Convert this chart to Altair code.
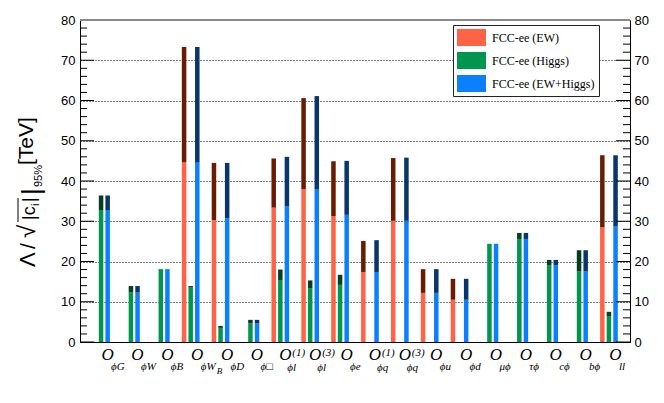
import altair as alt
import pandas as pd

# ---------------- data ----------------
op_ids = ["phiG", "phiW", "phiB", "phiWB", "phiD", "phiBox", "phil1", "phil3", "phie",
          "phiq1", "phiq3", "phiu", "phid", "muphi", "tauphi", "cphi", "bphi", "ll"]
op_sub = ["ϕG", "ϕW", "ϕB", "ϕW", "ϕD", "ϕ□", "ϕl", "ϕl", "ϕe",
          "ϕq", "ϕq", "ϕu", "ϕd", "μϕ", "τϕ", "cϕ", "bϕ", "ll"]
op_subsub = ["", "", "", "B", "", "", "", "", "", "", "", "", "", "", "", "", "", ""]
op_sup = ["", "", "", "", "", "", "(1)", "(3)", "", "(1)", "(3)", "", "", "", "", "", "", ""]

series = ["FCC-ee (EW)", "FCC-ee (Higgs)", "FCC-ee (EW+Higgs)"]
light_colors = ["#ff6347", "#00964f", "#0a80ff"]
dark_colors = ["#6a1c02", "#073d20", "#08366a"]

ew_total = [0, 0, 0, 73.3, 44.5, 0, 45.6, 60.6, 44.9, 25.1, 45.7, 18.1, 15.7, 0, 0, 0, 0, 46.4]
ew_lower = [0, 0, 0, 44.7, 30.3, 0, 33.4, 38.0, 31.3, 17.4, 30.1, 12.2, 10.5, 0, 0, 0, 0, 28.5]
higgs_total = [36.4, 13.9, 18.1, 13.9, 4.0, 5.5, 18.0, 15.3, 16.7, 0, 0, 0, 0, 24.4, 27.1, 20.4, 22.8, 7.5]
higgs_lower = [32.8, 12.3, 18.1, 13.5, 3.5, 4.6, 15.4, 13.4, 14.2, 0, 0, 0, 0, 24.4, 25.6, 19.0, 17.5, 6.3]
comb_total = [36.4, 13.9, 18.1, 73.3, 44.5, 5.5, 46.0, 61.1, 45.0, 25.3, 45.8, 18.1, 15.7, 24.4, 27.1, 20.4, 22.8, 46.4]
comb_lower = [32.8, 12.3, 18.1, 44.7, 30.8, 4.6, 33.7, 38.0, 31.6, 17.4, 30.1, 12.2, 10.5, 24.4, 25.6, 19.0, 17.5, 28.7]

major_ticks = [0, 10, 20, 30, 40, 50, 60, 70, 80]
minor_ticks = [v for v in range(0, 81, 2) if v % 10 != 0]

rows = []
for s, lows, tots in zip(series, [ew_lower, higgs_lower, comb_lower], [ew_total, higgs_total, comb_total]):
    for op, lo, tot in zip(op_ids, lows, tots):
        if tot > 0:
            rows.append({"op": op, "series": s, "lower": lo, "total": tot})
df = pd.DataFrame(rows)
labels_df = pd.DataFrame({"op": op_ids, "sub": op_sub, "sub2": op_subsub, "sup": op_sup})

# ---------------- scales / encodings ----------------
xscale = alt.Scale(domain=op_ids, paddingInner=0, paddingOuter=0.205)
xaxis = alt.Axis(labels=False, ticks=False, title=None, grid=False, domainColor="black", domainWidth=1)
X = alt.X("op:N", sort=op_ids, scale=xscale, axis=xaxis)
XO = alt.XOffset("series:N", sort=series,
                 scale=alt.Scale(domain=series, paddingInner=0.318, paddingOuter=0.92))
yscale = alt.Scale(domain=[0, 80], nice=False, zero=True)

left_axis = alt.Axis(orient="left", values=major_ticks, grid=True, gridDash=[1, 2], gridColor="black",
                     gridOpacity=1, gridWidth=1, ticks=False, tickSize=0, labelPadding=5,
                     domainColor="black", domainWidth=1, title=None, labelFont="Liberation Sans",
                     labelFontSize=13, labelColor="black")
right_axis = alt.Axis(orient="right", values=major_ticks, grid=False, ticks=False, tickSize=0,
                      labelPadding=4, domainColor="black", domainWidth=1, title=None,
                      labelFont="Liberation Sans", labelFontSize=13, labelColor="black")

legend = alt.Legend(title=None, orient="none", legendX=373, legendY=5,
                    symbolType="M-1,-1H2.412V1H-1Z", symbolSize=289, symbolStrokeWidth=0,
                    labelFont="Liberation Serif", labelFontSize=12, labelColor="black",
                    labelOffset=18, rowPadding=6, padding=4, strokeColor="#222222",
                    fillColor="white", labelLimit=300)

base = alt.Chart(df)
lower_bars = base.mark_bar().encode(
    x=X, xOffset=XO,
    y=alt.Y("lower:Q", scale=yscale, axis=left_axis),
    color=alt.Color("series:N", sort=series, scale=alt.Scale(domain=series, range=light_colors), legend=legend),
)
upper_bars = base.mark_bar().encode(
    x=X, xOffset=XO,
    y=alt.Y("lower:Q", scale=yscale, axis=None),
    y2="total:Q",
    fill=alt.Fill("series:N", sort=series, scale=alt.Scale(domain=series, range=dark_colors), legend=None),
)

major_df = pd.DataFrame({"v": major_ticks})
minor_df = pd.DataFrame({"v": minor_ticks})

tick_left_major = alt.Chart(major_df).mark_rule(color="black", strokeWidth=1).encode(
    y=alt.Y("v:Q", scale=yscale, axis=right_axis), x=alt.value(0), x2=alt.value(14))
tick_left_minor = alt.Chart(minor_df).mark_rule(color="black", strokeWidth=1).encode(
    y=alt.Y("v:Q", scale=yscale, axis=None), x=alt.value(0), x2=alt.value(7))
tick_right_major = alt.Chart(major_df).mark_rule(color="black", strokeWidth=1).encode(
    y=alt.Y("v:Q", scale=yscale, axis=None), x=alt.value(536), x2=alt.value(550))
tick_right_minor = alt.Chart(minor_df).mark_rule(color="black", strokeWidth=1).encode(
    y=alt.Y("v:Q", scale=yscale, axis=None), x=alt.value(543), x2=alt.value(550))
top_line = alt.Chart(pd.DataFrame({"v": [80]})).mark_rule(color="#8a8a8a", strokeWidth=2).encode(
    y=alt.Y("v:Q", scale=yscale, axis=None))

# ---------------- x labels ----------------
lab = alt.Chart(labels_df)
txt_style = dict(font="Liberation Serif", fontStyle="italic", baseline="alphabetic", color="black")
lab_O = lab.transform_filter("datum.sup == ''").mark_text(
    text="O", fontSize=17, align="center", dx=6.5, **txt_style).encode(x=X, y=alt.value(340))
lab_O_s = lab.transform_filter("datum.sup != ''").mark_text(
    text="O", fontSize=17, align="center", dx=5, **txt_style).encode(x=X, y=alt.value(340))
lab_sub = lab.transform_filter("datum.sup == ''").mark_text(
    fontSize=11, align="left", dx=10, **txt_style).encode(x=X, y=alt.value(350), text="sub:N")
lab_sub_s = lab.transform_filter("datum.sup != ''").mark_text(
    fontSize=11, align="left", dx=7, **txt_style).encode(x=X, y=alt.value(351), text="sub:N")
lab_sub2 = lab.transform_filter("datum.sub2 != ''").mark_text(
    fontSize=9, align="left", dx=26, **txt_style).encode(x=X, y=alt.value(354), text="sub2:N")
lab_sup = lab.transform_filter("datum.sup != ''").mark_text(
    fontSize=11, align="left", dx=12, **txt_style).encode(x=X, y=alt.value(336), text="sup:N")

# ---------------- y title (rotated pieces) ----------------
def rot(txt, x, y, size):
    return alt.Chart(alt.Data(values=[{"k": 1}])).mark_text(
        text=txt, angle=270, align="left", baseline="alphabetic", fontSize=size,
        font="Liberation Sans", color="black").encode(x=alt.value(x), y=alt.value(y))

title_parts = [
    rot("Λ", -45, 247, 22),
    rot("/", -45, 229, 21),
    rot("√", -45, 218, 24),
    rot("|c", -45, 200, 18),
    rot("i", -41, 186, 11),
    rot("|", -45, 182, 18),
    rot("|", -40, 175, 26),
    rot("95%", -38, 167, 11),
    rot("[TeV]", -47, 145, 21),
]
overline = alt.Chart(alt.Data(values=[{"k": 1}])).mark_rule(color="black", strokeWidth=1).encode(
    x=alt.value(-62), y=alt.value(202), y2=alt.value(178))

chart = alt.layer(
    lower_bars, upper_bars,
    tick_left_major, tick_left_minor, tick_right_major, tick_right_minor, top_line,
    lab_O, lab_O_s, lab_sub, lab_sub_s, lab_sub2, lab_sup,
    *title_parts, overline,
).resolve_axis(y="independent").properties(
    width=550, height=322, autosize="none",
    padding={"left": 72, "top": 12, "right": 20, "bottom": 50},
).configure_view(stroke=None)

chart.save("out.html", embed_options={"renderer": "svg", "actions": False})
